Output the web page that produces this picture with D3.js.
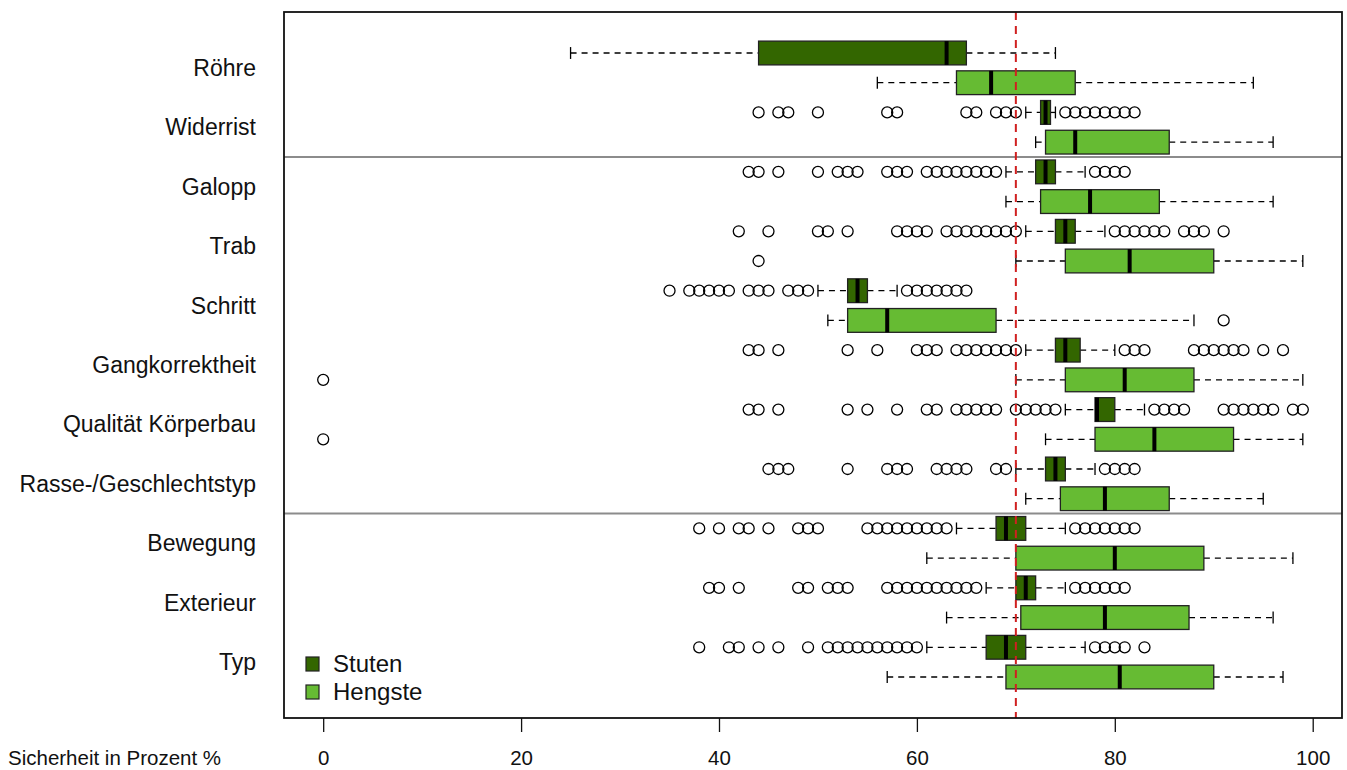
<!DOCTYPE html>
<html>
<head>
<meta charset="utf-8">
<script src="https://cdn.jsdelivr.net/npm/d3@7"></script>
<style>
  body { margin: 0; background: #fff; }
  svg { display: block; font-family: "Liberation Sans", Arial, sans-serif; }
</style>
</head>
<body>
<svg width="1347" height="770"></svg>
<script>
// categories top to bottom
const categories = ["Röhre", "Widerrist", "Galopp", "Trab", "Schritt", "Gangkorrektheit",
  "Qualität Körperbau", "Rasse-/Geschlechtstyp", "Bewegung", "Exterieur", "Typ"];
const groups = ["Stuten", "Hengste"];
const groupColors = ["#336600", "#66bb33"];

// [lower whisker, Q1, median, Q3, upper whisker]
const stutenStats = [
  [25, 44, 63, 65, 74],
  [71, 72.5, 73, 73.5, 74],
  [69, 72, 73, 74, 77],
  [71, 74, 75, 76, 79],
  [50, 53, 54, 55, 58],
  [71, 74, 75, 76.5, 80],
  [75, 78, 78.2, 80, 83],
  [70, 73, 74, 75, 78],
  [64, 68, 69, 71, 75],
  [67, 70, 71, 72, 75],
  [61, 67, 69, 71, 77]
];
const hengsteStats = [
  [56, 64, 67.5, 76, 94],
  [72, 73, 76, 85.5, 96],
  [69, 72.5, 77.5, 84.5, 96],
  [70, 75, 81.5, 90, 99],
  [51, 53, 57, 68, 88],
  [70, 75, 81, 88, 99],
  [73, 78, 84, 92, 99],
  [71, 74.5, 79, 85.5, 95],
  [61, 70, 80, 89, 98],
  [63, 70.5, 79, 87.5, 96],
  [57, 69, 80.5, 90, 97]
];
const stutenOutliers = [
  [],
  [44, 46, 47, 50, 57, 58, 65, 66, 68, 69, 70, 75, 76, 77, 78, 79, 80, 81, 82],
  [43, 44, 46, 50, 52, 53, 54, 57, 58, 59, 61, 62, 63, 64, 65, 66, 67, 68, 78, 79, 80, 81],
  [42, 45, 50, 51, 53, 58, 59, 60, 61, 63, 64, 65, 66, 67, 68, 69, 70, 80, 81, 82, 83, 84, 85, 87, 88, 89, 91],
  [35, 37, 38, 39, 40, 41, 43, 44, 45, 47, 48, 49, 59, 60, 61, 62, 63, 64, 65],
  [43, 44, 46, 53, 56, 60, 61, 62, 64, 65, 66, 67, 68, 69, 70, 81, 82, 83, 88, 89, 90, 91, 92, 93, 95, 97],
  [43, 44, 46, 53, 55, 58, 61, 62, 64, 65, 66, 67, 68, 70, 71, 72, 73, 74, 84, 85, 86, 87, 91, 92, 93, 94, 95, 96, 98, 99],
  [45, 46, 47, 53, 57, 58, 59, 62, 63, 64, 65, 68, 69, 79, 80, 81, 82],
  [38, 40, 42, 43, 45, 48, 49, 50, 55, 56, 57, 58, 59, 60, 61, 62, 63, 76, 77, 78, 79, 80, 81, 82],
  [39, 40, 42, 48, 49, 51, 52, 53, 57, 58, 59, 60, 61, 62, 63, 64, 65, 66, 76, 77, 78, 79, 80, 81],
  [38, 41, 42, 44, 46, 49, 51, 52, 53, 54, 55, 56, 57, 58, 59, 60, 78, 79, 80, 81, 83]
];
const hengsteOutliers = [[], [], [], [44], [91], [0], [0], [], [], [], []];
const xTicks = [0, 20, 40, 60, 80, 100];
const refValue = 70;
const separatorsAfter = [1, 7]; // separator lines after these category indices
const xTitle = "Sicherheit in Prozent %";

const svg = d3.select("svg");
const plot = { left: 284, right: 1342, top: 12, bottom: 718 };

const x = d3.scaleLinear().domain([-3.96, 102.96]).range([plot.left, plot.right]);
const y = d3.scaleLinear().domain([-0.38, 23.38]).range([plot.top, plot.bottom]);
const half = 0.4; // box half height in position units

const rows = [];
categories.forEach((c, i) => {
  rows.push({ cat: c, g: 0, pos: 2 * i + 1, s: stutenStats[i], out: stutenOutliers[i] });
  rows.push({ cat: c, g: 1, pos: 2 * i + 2, s: hengsteStats[i], out: hengsteOutliers[i] });
});

// group separators
svg.selectAll("line.sep").data(separatorsAfter).enter().append("line")
  .attr("x1", plot.left).attr("x2", plot.right)
  .attr("y1", d => y(2 * d + 2.5)).attr("y2", d => y(2 * d + 2.5))
  .attr("stroke", "#8c8c8c").attr("stroke-width", 2);

const row = svg.selectAll("g.row").data(rows).enter().append("g").attr("class", "row");

// whiskers
row.append("line")
  .attr("x1", d => x(d.s[0])).attr("x2", d => x(d.s[1]))
  .attr("y1", d => y(d.pos)).attr("y2", d => y(d.pos))
  .attr("stroke", "#000").attr("stroke-width", 1.3).attr("stroke-dasharray", "6,5");
row.append("line")
  .attr("x1", d => x(d.s[3])).attr("x2", d => x(d.s[4]))
  .attr("y1", d => y(d.pos)).attr("y2", d => y(d.pos))
  .attr("stroke", "#000").attr("stroke-width", 1.3).attr("stroke-dasharray", "6,5");
// staples
[0, 4].forEach(k => {
  row.append("line")
    .attr("x1", d => x(d.s[k])).attr("x2", d => x(d.s[k]))
    .attr("y1", d => y(d.pos - half / 2)).attr("y2", d => y(d.pos + half / 2))
    .attr("stroke", "#000").attr("stroke-width", 1.3);
});
// boxes
row.append("rect")
  .attr("x", d => x(d.s[1]))
  .attr("width", d => x(d.s[3]) - x(d.s[1]))
  .attr("y", d => y(d.pos - half))
  .attr("height", d => y(d.pos + half) - y(d.pos - half))
  .attr("fill", d => groupColors[d.g])
  .attr("stroke", "#222").attr("stroke-width", 1.3);
// medians
row.append("line")
  .attr("x1", d => x(d.s[2])).attr("x2", d => x(d.s[2]))
  .attr("y1", d => y(d.pos - half)).attr("y2", d => y(d.pos + half))
  .attr("stroke", "#000").attr("stroke-width", 4);
// outliers
row.selectAll("circle").data(d => d.out.map(v => ({ v, pos: d.pos }))).enter().append("circle")
  .attr("cx", d => x(d.v)).attr("cy", d => y(d.pos)).attr("r", 5.5)
  .attr("fill", "none").attr("stroke", "#000").attr("stroke-width", 1.3);

// reference line
svg.append("line")
  .attr("x1", x(refValue)).attr("x2", x(refValue))
  .attr("y1", plot.top).attr("y2", plot.bottom)
  .attr("stroke", "#d02020").attr("stroke-width", 2).attr("stroke-dasharray", "8,6");

// plot frame
svg.append("rect")
  .attr("x", plot.left).attr("y", plot.top)
  .attr("width", plot.right - plot.left).attr("height", plot.bottom - plot.top)
  .attr("fill", "none").attr("stroke", "#111").attr("stroke-width", 1.8);

// category labels
svg.selectAll("text.cat").data(categories).enter().append("text")
  .attr("x", 256).attr("y", (d, i) => y(2 * i + 1.5)).attr("dy", "0.35em")
  .attr("text-anchor", "end").attr("font-size", 23).attr("fill", "#111")
  .text(d => d);

// x axis
const axis = svg.append("g").attr("transform", `translate(0,${plot.bottom})`)
  .call(d3.axisBottom(x).tickValues(xTicks).tickSize(14).tickPadding(18));
axis.select(".domain").remove();
axis.selectAll("line").attr("stroke", "#111").attr("stroke-width", 1.3);
axis.selectAll("text").attr("font-size", 20.5).attr("fill", "#111")
  .attr("font-family", "Liberation Sans, Arial, sans-serif");

svg.append("text").attr("x", 8).attr("y", 758).attr("dy", "0.35em")
  .attr("font-size", 20.5).attr("fill", "#111").text(xTitle);

// legend
const legend = svg.selectAll("g.legend").data(groups).enter().append("g")
  .attr("transform", (d, i) => `translate(306,${664 + i * 28})`);
legend.append("rect").attr("x", 0).attr("y", -7).attr("width", 13).attr("height", 14)
  .attr("fill", (d, i) => groupColors[i]).attr("stroke", "#222").attr("stroke-width", 1.2);
legend.append("text").attr("x", 27).attr("y", 0).attr("dy", "0.35em")
  .attr("font-size", 24).attr("fill", "#111").text(d => d);
</script>
</body>
</html>
